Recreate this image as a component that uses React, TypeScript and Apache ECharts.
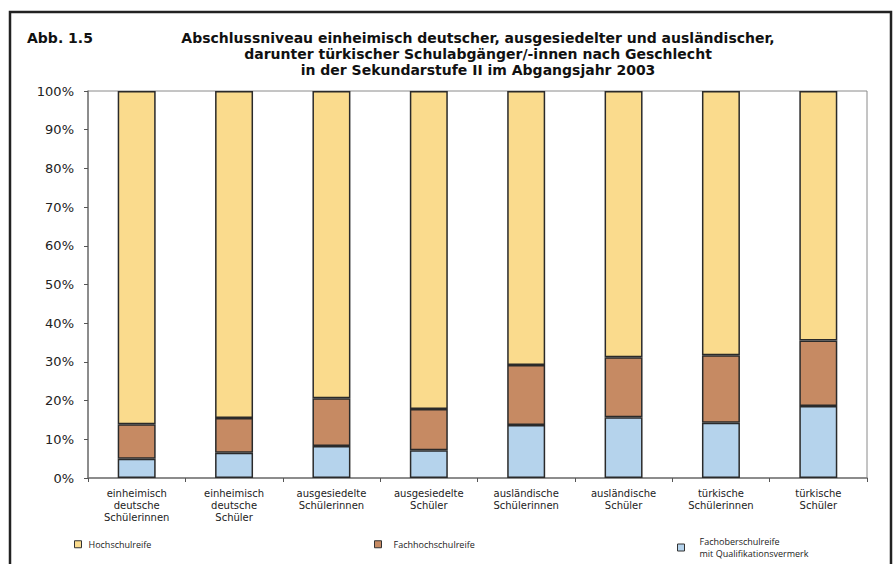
import React, { useEffect, useRef } from "react";
import * as echarts from "echarts";

const categories = [
  "einheimisch\ndeutsche\nSchülerinnen",
  "einheimisch\ndeutsche\nSchüler",
  "ausgesiedelte\nSchülerinnen",
  "ausgesiedelte\nSchüler",
  "ausländische\nSchülerinnen",
  "ausländische\nSchüler",
  "türkische\nSchülerinnen",
  "türkische\nSchüler",
];

// percentages (stacked to 100)
const fachoberschulreife = [5.0, 6.5, 8.3, 7.2, 13.7, 15.7, 14.3, 18.6];
const fachhochschulreife = [8.9, 9.0, 12.3, 10.6, 15.5, 15.5, 17.4, 16.9];
const hochschulreife = [86.1, 84.5, 79.4, 82.2, 70.8, 68.8, 68.3, 64.5];

const yTicks = [0, 10, 20, 30, 40, 50, 60, 70, 80, 90, 100];

const titleLines = [
  "Abschlussniveau einheimisch deutscher, ausgesiedelter und ausländischer,",
  "darunter türkischer Schulabgänger/-innen nach Geschlecht",
  "in der Sekundarstufe II im Abgangsjahr 2003",
];

const seriesNames = {
  hoch: "Hochschulreife",
  fachhoch: "Fachhochschulreife",
  fachober: "Fachoberschulreife\nmit Qualifikationsvermerk",
};

const colors = {
  hoch: "#FADB8D",
  fachhoch: "#C68A63",
  fachober: "#B5D3EC",
};

const FONT = "'Open Sans', 'Noto Sans', sans-serif";
const DEJAVU = "'DejaVu Sans', sans-serif";

export default function App() {
  const ref = useRef<HTMLDivElement>(null);

  useEffect(() => {
    document.body.style.margin = "0";
    if (!ref.current) return;
    const chart = echarts.init(ref.current, undefined, { renderer: "svg" });
    const barBorder = { borderColor: "#2a2a2a", borderWidth: 1.5 };
    const legendText = { fontFamily: FONT, fontSize: 9, color: "#222", lineHeight: 12.5 };
    const legendBase = {
      itemWidth: 7,
      itemHeight: 7,
      icon: "rect",
      padding: 0,
      itemStyle: { borderColor: "#333", borderWidth: 1 },
      selectedMode: false,
    };
    chart.setOption({
      animation: false,
      backgroundColor: "#fff",
      textStyle: { fontFamily: FONT },
      grid: {
        left: 88,
        right: 28,
        top: 91,
        bottom: 86,
        show: true,
        borderColor: "#8a8a8a",
        borderWidth: 1,
        backgroundColor: "transparent",
      },
      legend: [
        {
          ...legendBase,
          data: [seriesNames.hoch],
          left: 74,
          top: 538,
          textStyle: { ...legendText, padding: [0, 0, 0, 2] },
        },
        {
          ...legendBase,
          data: [seriesNames.fachhoch],
          left: 374,
          top: 538,
          textStyle: { ...legendText, padding: [0, 0, 0, 7] },
        },
        {
          ...legendBase,
          data: [seriesNames.fachober],
          left: 677,
          top: 535,
          textStyle: { ...legendText, padding: [0, 0, 0, 10] },
        },
      ],
      xAxis: {
        type: "category",
        data: categories,
        boundaryGap: true,
        axisLine: { show: true, lineStyle: { color: "#7a7a7a", width: 1.5 } },
        axisTick: { show: true, length: 4, alignWithLabel: false, lineStyle: { color: "#555" } },
        axisLabel: {
          interval: 0,
          fontFamily: DEJAVU,
          fontSize: 10,
          lineHeight: 11.7,
          color: "#222",
          margin: 10,
        },
        splitLine: { show: false },
      },
      yAxis: {
        type: "value",
        min: 0,
        max: 100,
        interval: 10,
        axisLine: { show: true, lineStyle: { color: "#7a7a7a", width: 1.5 } },
        axisTick: { show: true, length: 4, lineStyle: { color: "#555" } },
        axisLabel: {
          formatter: (v: number) => (yTicks.includes(v) ? v + "%" : ""),
          fontFamily: DEJAVU,
          fontSize: 13,
          color: "#222",
          margin: 14,
        },
        splitLine: { show: false },
      },
      series: [
        {
          name: seriesNames.fachober,
          type: "bar",
          stack: "total",
          data: fachoberschulreife,
          barWidth: "39%",
          itemStyle: { color: colors.fachober, ...barBorder },
        },
        {
          name: seriesNames.fachhoch,
          type: "bar",
          stack: "total",
          data: fachhochschulreife,
          barWidth: "39%",
          itemStyle: { color: colors.fachhoch, ...barBorder },
        },
        {
          name: seriesNames.hoch,
          type: "bar",
          stack: "total",
          data: hochschulreife,
          barWidth: "39%",
          itemStyle: { color: colors.hoch, ...barBorder },
        },
      ],
      graphic: [
        {
          type: "rect",
          shape: { x: 10, y: 12, width: 881, height: 600 },
          style: { fill: "none", stroke: "#222", lineWidth: 2.5 },
          silent: true,
        },
        {
          type: "text",
          x: 27,
          y: 29.5,
          style: {
            text: "Abb. 1.5",
            fontFamily: DEJAVU,
            fontWeight: "bold",
            fontSize: 14,
            lineHeight: 16.4,
            fill: "#111",
          },
        },
        ...titleLines.map((t, i) => ({
          type: "text",
          x: 478,
          y: 29.5 + i * 16.4,
          style: {
            text: t,
            fontFamily: DEJAVU,
            fontWeight: "bold",
            fontSize: 14,
            lineHeight: 16.4,
            align: "center",
            fill: "#111",
          },
        })),
      ],
    });
    return () => chart.dispose();
  }, []);

  return <div ref={ref} style={{ width: 895, height: 564 }} />;
}
